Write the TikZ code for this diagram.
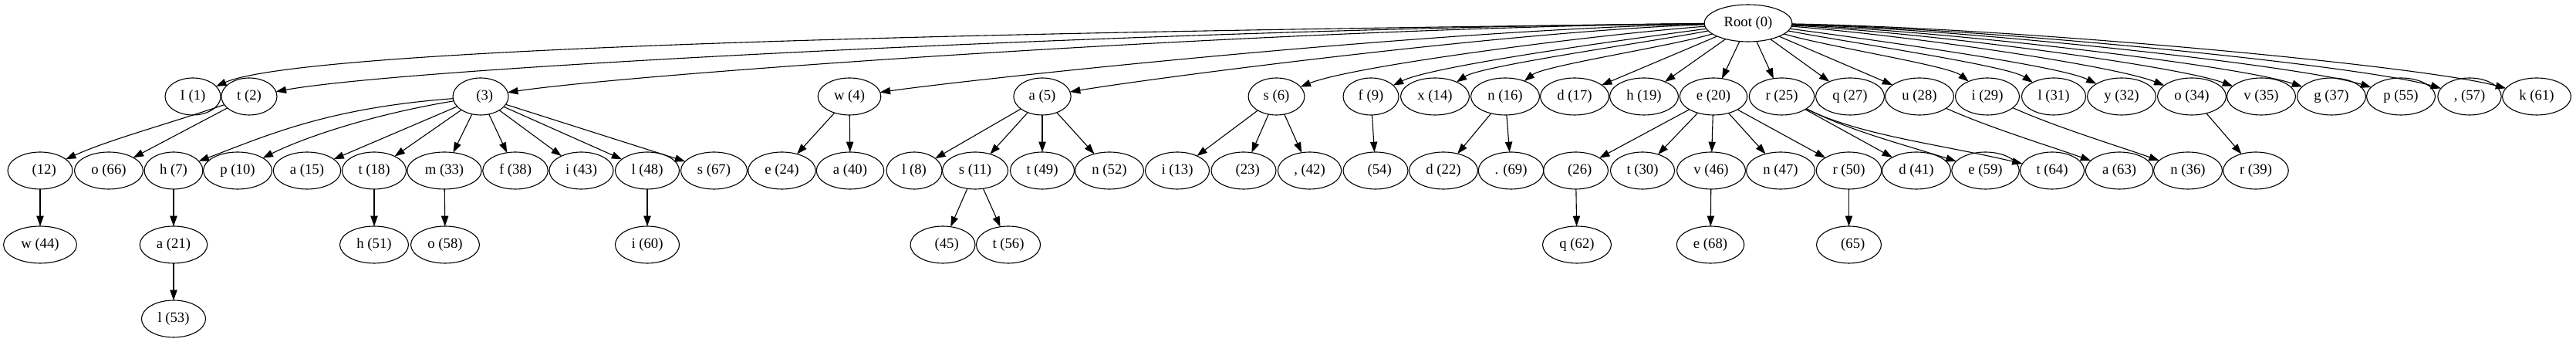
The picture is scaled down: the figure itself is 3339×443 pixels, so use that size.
\documentclass[tikz,border=0pt]{standalone}
\usepackage{fontspec}
\setmainfont{Liberation Serif}
\usetikzlibrary{arrows.meta,shapes.geometric}
\tikzset{
 tn/.style={ellipse, draw, line width=1.1pt, minimum width=72pt, minimum height=48pt, inner xsep=8.9pt, inner ysep=3pt, outer sep=0pt, font=\fontsize{18.67}{22}\selectfont},
 ed/.style={line width=1.1pt, -{Triangle[length=13.3pt,width=9.3pt]}},
}
\newcommand{\bl}{\hspace{0.56em}}
\begin{document}
\begin{tikzpicture}[x=1pt,y=1pt]
\useasboundingbox (0,0) rectangle (3339,443);
% root
\node[tn] (r0) at (2266,413) {Root (0)};
% level 1
\node[tn] (n1) at (250,318) {I (1)};
\node[tn] (n2) at (323,318) {t (2)};
\node[tn] (n3) at (623,318) {\bl(3)};
\node[tn] (n4) at (1101,318) {w (4)};
\node[tn] (n5) at (1351,318) {a (5)};
\node[tn] (n6) at (1654.5,318) {s (6)};
\node[tn] (n9) at (1777,318) {f (9)};
\node[tn] (n14) at (1860,318) {x (14)};
\node[tn] (n16) at (1951,318) {n (16)};
\node[tn] (n17) at (2041,318) {d (17)};
\node[tn] (n19) at (2131,318) {h (19)};
\node[tn] (n20) at (2221,318) {e (20)};
\node[tn] (n25) at (2309.5,318) {r (25)};
\node[tn] (n27) at (2398,318) {q (27)};
\node[tn] (n28) at (2488,318) {u (28)};
\node[tn] (n29) at (2576,318) {i (29)};
\node[tn] (n31) at (2662,318) {l (31)};
\node[tn] (n32) at (2750,318) {y (32)};
\node[tn] (n34) at (2841,318) {o (34)};
\node[tn] (n35) at (2931,318) {v (35)};
\node[tn] (n37) at (3022,318) {g (37)};
\node[tn] (n55) at (3112,318) {p (55)};
\node[tn] (n57) at (3201,318) {, (57)};
\node[tn] (n61) at (3288,318) {k (61)};
% level 2
\node[tn] (n12) at (52,222) {\bl(12)};
\node[tn] (n66) at (141,222) {o (66)};
\node[tn] (n7) at (225,222) {h (7)};
\node[tn] (n10) at (308,222) {p (10)};
\node[tn] (n15) at (398,222) {a (15)};
\node[tn] (n18) at (485,222) {t (18)};
\node[tn] (n33) at (576,222) {m (33)};
\node[tn] (n38) at (668,222) {f (38)};
\node[tn] (n43) at (753.5,222) {i (43)};
\node[tn] (n48) at (839,222) {l (48)};
\node[tn] (n67) at (925.5,222) {s (67)};
\node[tn] (n24) at (1013.5,222) {e (24)};
\node[tn] (n40) at (1102,222) {a (40)};
\node[tn] (n8) at (1185,222) {l (8)};
\node[tn] (n11) at (1264,222) {s (11)};
\node[tn] (n49) at (1351,222) {t (49)};
\node[tn] (n52) at (1438,222) {n (52)};
\node[tn] (n13) at (1526,222) {i (13)};
\node[tn] (n23) at (1612,222) {\bl(23)};
\node[tn] (n42) at (1697.5,222) {, (42)};
\node[tn] (n54) at (1783,222) {\bl(54)};
\node[tn] (n22) at (1871,222) {d (22)};
\node[tn] (n69) at (1958.5,222) {. (69)};
\node[tn] (n26) at (2042.5,222) {\bl(26)};
\node[tn] (n30) at (2129,222) {t (30)};
\node[tn] (n46) at (2218,222) {v (46)};
\node[tn] (n47) at (2308,222) {n (47)};
\node[tn] (n50) at (2396.5,222) {r (50)};
\node[tn] (n41) at (2484,222) {d (41)};
\node[tn] (n59) at (2573.5,222) {e (59)};
\node[tn] (n64) at (2660,222) {t (64)};
\node[tn] (n63) at (2747,222) {a (63)};
\node[tn] (n36) at (2836,222) {n (36)};
\node[tn] (n39) at (2924,222) {r (39)};
% level 3
\node[tn] (n44) at (52,126) {w (44)};
\node[tn] (n21) at (225,126) {a (21)};
\node[tn] (n51) at (485,126) {h (51)};
\node[tn] (n58) at (577,126) {o (58)};
\node[tn] (n60) at (839,126) {i (60)};
\node[tn] (n45) at (1222,126) {\bl(45)};
\node[tn] (n56) at (1307,126) {t (56)};
\node[tn] (n62) at (2044,126) {q (62)};
\node[tn] (n68) at (2217,126) {e (68)};
\node[tn] (n65) at (2396.5,126) {\bl(65)};
% level 4
\node[tn] (n53) at (225,30) {l (53)};
% root edges
\draw[ed] (r0) .. controls +(-700,-8) and +(160,70) .. (n1);
\draw[ed] (r0) .. controls +(-700,-6) and +(220,40) .. (n2);
\draw[ed] (r0) .. controls +(-600,-6) and +(200,30) .. (n3);
\draw[ed] (r0) .. controls +(-400,-8) and +(180,25) .. (n4);
\draw[ed] (r0) .. controls +(-300,-10) and +(150,25) .. (n5);
\draw[ed] (r0) .. controls +(-200,-15) and +(100,40) .. (n6);
\draw[ed] (r0) .. controls +(-150,-20) and +(80,40) .. (n9);
\draw[ed] (r0) .. controls +(-130,-25) and +(60,40) .. (n14);
\draw[ed] (r0) .. controls +(-100,-30) and +(50,40) .. (n16);
\draw[ed] (r0) -- (n17);
\draw[ed] (r0) -- (n19);
\draw[ed] (r0) -- (n20);
\draw[ed] (r0) -- (n25);
\draw[ed] (r0) -- (n27);
\draw[ed] (r0) -- (n28);
\draw[ed] (r0) .. controls +(100,-30) and +(-50,40) .. (n29);
\draw[ed] (r0) .. controls +(130,-25) and +(-60,40) .. (n31);
\draw[ed] (r0) .. controls +(150,-20) and +(-80,40) .. (n32);
\draw[ed] (r0) .. controls +(200,-15) and +(-100,40) .. (n34);
\draw[ed] (r0) .. controls +(230,-12) and +(-110,40) .. (n35);
\draw[ed] (r0) .. controls +(260,-10) and +(-120,40) .. (n37);
\draw[ed] (r0) .. controls +(290,-8) and +(-130,40) .. (n55);
\draw[ed] (r0) .. controls +(320,-7) and +(-140,40) .. (n57);
\draw[ed] (r0) .. controls +(350,-6) and +(-150,40) .. (n61);
% level 1 -> 2
\draw[ed] (n2) .. controls +(-120,-40) and +(90,40) .. (n12);
\draw[ed] (n2) -- (n66);
\draw[ed] (n3) .. controls +(-200,-15) and +(120,45) .. (n7);
\draw[ed] (n3) .. controls +(-150,-25) and +(80,40) .. (n10);
\draw[ed] (n3) -- (n15);
\draw[ed] (n3) -- (n18);
\draw[ed] (n3) -- (n33);
\draw[ed] (n3) -- (n38);
\draw[ed] (n3) -- (n43);
\draw[ed] (n3) -- (n48);
\draw[ed] (n3) -- (n67);
\draw[ed] (n4) -- (n24);
\draw[ed] (n4) -- (n40);
\draw[ed] (n5) -- (n8);
\draw[ed] (n5) -- (n11);
\draw[ed] (n5) -- (n49);
\draw[ed] (n5) -- (n52);
\draw[ed] (n6) -- (n13);
\draw[ed] (n6) -- (n23);
\draw[ed] (n6) -- (n42);
\draw[ed] (n9) -- (n54);
\draw[ed] (n16) -- (n22);
\draw[ed] (n16) -- (n69);
\draw[ed] (n20) -- (n26);
\draw[ed] (n20) -- (n30);
\draw[ed] (n20) -- (n46);
\draw[ed] (n20) -- (n47);
\draw[ed] (n20) -- (n50);
\draw[ed] (n25) -- (n41);
\draw[ed] (n25) .. controls +(90,-45) and +(-110,35) .. (n59);
\draw[ed] (n25) .. controls +(100,-50) and +(-150,35) .. (n64);
\draw[ed] (n28) .. controls +(90,-40) and +(-100,35) .. (n63);
\draw[ed] (n29) .. controls +(90,-40) and +(-100,35) .. (n36);
\draw[ed] (n34) -- (n39);
% level 2 -> 3
\draw[ed] (n12) -- (n44);
\draw[ed] (n7) -- (n21);
\draw[ed] (n18) -- (n51);
\draw[ed] (n33) -- (n58);
\draw[ed] (n48) -- (n60);
\draw[ed] (n11) -- (n45);
\draw[ed] (n11) -- (n56);
\draw[ed] (n26) -- (n62);
\draw[ed] (n46) -- (n68);
\draw[ed] (n50) -- (n65);
% level 3 -> 4
\draw[ed] (n21) -- (n53);
\end{tikzpicture}
\end{document}
